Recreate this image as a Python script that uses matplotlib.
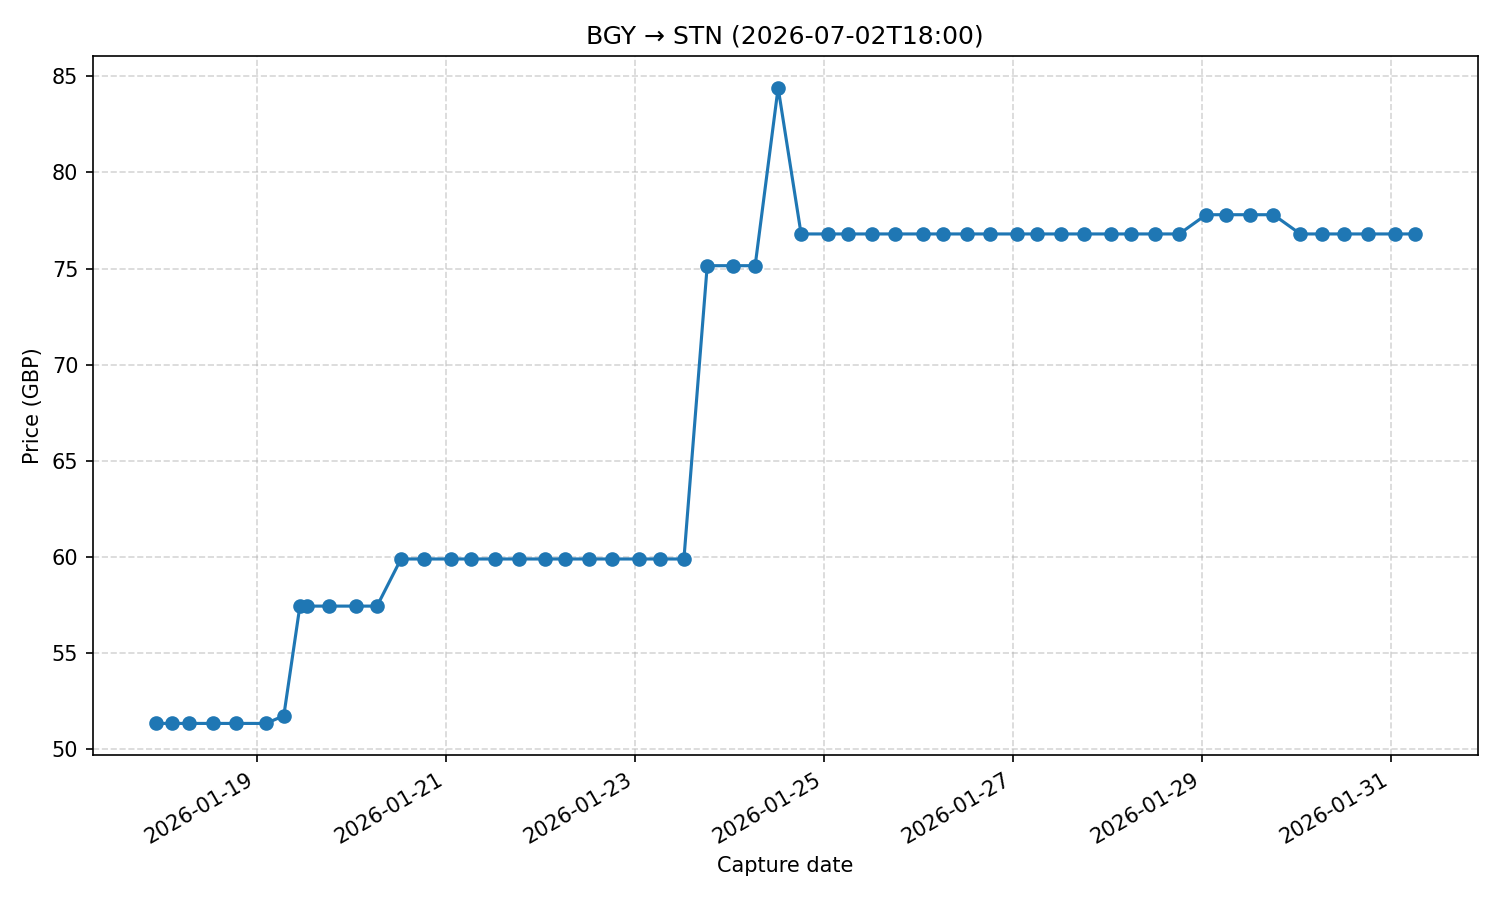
import pandas as pd
import matplotlib
matplotlib.use("Agg")
import matplotlib.pyplot as plt
import matplotlib.dates as mdates

CAPTURES = [
    "2026-01-17 22:20", "2026-01-18 02:25", "2026-01-18 06:45", "2026-01-18 12:50",
    "2026-01-18 18:40", "2026-01-19 02:20", "2026-01-19 06:50", "2026-01-19 10:55",
    "2026-01-19 12:40", "2026-01-19 18:20", "2026-01-20 01:10", "2026-01-20 06:30",
    "2026-01-20 12:35", "2026-01-20 18:25", "2026-01-21 01:15", "2026-01-21 06:20",
    "2026-01-21 12:25", "2026-01-21 18:30", "2026-01-22 01:10", "2026-01-22 06:15",
    "2026-01-22 12:20", "2026-01-22 18:10", "2026-01-23 01:00", "2026-01-23 06:25",
    "2026-01-23 12:25", "2026-01-23 18:20", "2026-01-24 00:55", "2026-01-24 06:30",
    "2026-01-24 12:20", "2026-01-24 18:10", "2026-01-25 01:00", "2026-01-25 06:05",
    "2026-01-25 12:10", "2026-01-25 18:00", "2026-01-26 01:10", "2026-01-26 06:15",
    "2026-01-26 12:20", "2026-01-26 18:10", "2026-01-27 01:00", "2026-01-27 06:05",
    "2026-01-27 12:10", "2026-01-27 18:05", "2026-01-28 00:55", "2026-01-28 06:00",
    "2026-01-28 12:05", "2026-01-28 18:10", "2026-01-29 01:00", "2026-01-29 06:05",
    "2026-01-29 12:10", "2026-01-29 18:05", "2026-01-30 00:55", "2026-01-30 06:20",
    "2026-01-30 12:05", "2026-01-30 18:10", "2026-01-31 00:50", "2026-01-31 05:55",
]
PRICES = (
    [51.35] * 6 + [51.75] + [57.45] * 5 + [59.9] * 13 + [75.15] * 3 + [84.4]
    + [76.8] * 17 + [77.8] * 4 + [76.8] * 6
)

dates = pd.to_datetime(CAPTURES)

fig, ax = plt.subplots(figsize=(10, 6))
ax.plot(dates, PRICES, marker="o")
ax.set_title("BGY \u2192 STN (2026-07-02T18:00)")
ax.set_xlabel("Capture date")
ax.set_ylabel("Price (GBP)")
ax.xaxis.set_major_locator(mdates.DayLocator(bymonthday=range(1, 32, 2)))
ax.xaxis.set_major_formatter(mdates.DateFormatter("%Y-%m-%d"))
ax.grid(True, linestyle="--", alpha=0.5)
fig.autofmt_xdate()
plt.tight_layout()
plt.savefig("out.png", dpi=150)
